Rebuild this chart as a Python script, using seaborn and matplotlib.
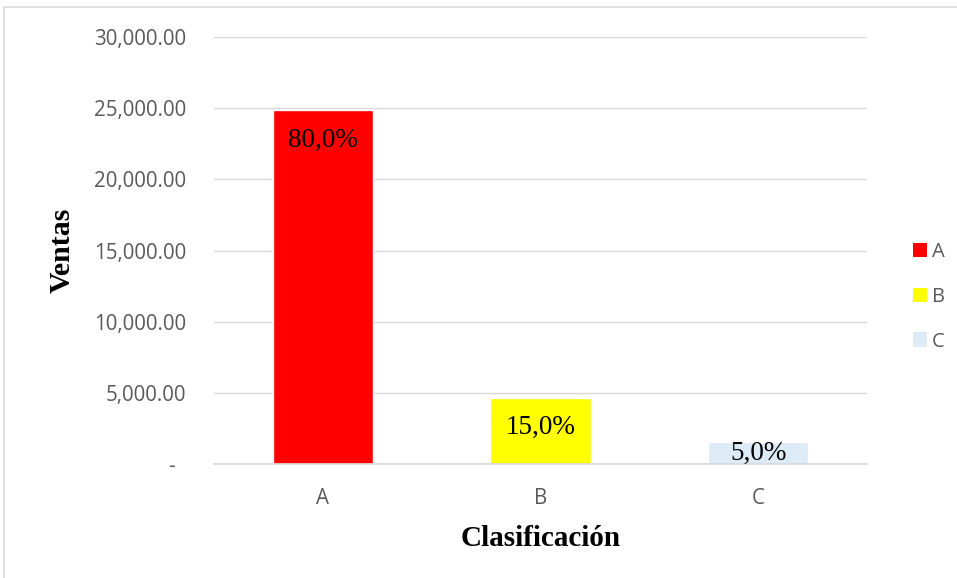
import matplotlib
matplotlib.use("Agg")
import matplotlib.pyplot as plt
import seaborn as sns
import pandas as pd
from matplotlib.patches import Rectangle, Patch
from matplotlib.ticker import FuncFormatter

# datos
categorias = ["A", "B", "C"]
ventas = [24850, 4650, 1550]
porcentajes = ["80,0%", "15,0%", "5,0%"]
colores = ["#FF0000", "#FFFF00", "#DDEBF7"]

df = pd.DataFrame({"Clasificación": categorias, "Ventas": ventas})

sns.set_theme(style="white")
plt.rcParams["font.family"] = ["Open Sans", "DejaVu Sans"]

fig = plt.figure(figsize=(9.57, 5.78), dpi=100)
ax = fig.add_axes([214 / 957, 1 - 464 / 578, 653 / 957, 427 / 578])

sns.barplot(data=df, x="Clasificación", y="Ventas", hue="Clasificación",
            palette=colores, width=0.46, saturation=1, legend=False, ax=ax)

ax.set_ylim(0, 30000)
ax.set_yticks(range(0, 30001, 5000))
# formato contable: el cero se muestra como guion
ax.yaxis.set_major_formatter(FuncFormatter(lambda v, p: "-  " if v == 0 else f"{v:,.2f}"))
ax.grid(axis="y", color="#d9d9d9", linewidth=1)
ax.set_axisbelow(True)
for s in ["top", "left", "right"]:
    ax.spines[s].set_visible(False)
ax.spines["bottom"].set_color("#d9d9d9")
ax.tick_params(axis="both", length=0, labelsize=14.8, labelcolor="#595959")
ax.tick_params(axis="y", pad=20)
ax.tick_params(axis="x", pad=17)

ax.set_xlabel("Clasificación", family="Liberation Serif", fontweight="bold",
              fontsize=21, color="black", labelpad=12)
ax.set_ylabel("Ventas", family="Liberation Serif", fontweight="bold",
              fontsize=21.5, color="black", labelpad=13)

# etiquetas de porcentaje
px_por_unidad = 427 / 30000
for i, (v, t) in enumerate(zip(ventas, porcentajes)):
    if v * px_por_unidad > 60:
        y = v - 30 / px_por_unidad
    else:
        y = v / 2 - 0.5 / px_por_unidad
    ax.text(i, y, t, ha="center", va="center", family="Liberation Serif",
            fontsize=19.5, color="black")

handles = [Patch(facecolor=c, edgecolor="none") for c in colores]
fig.legend(handles, categorias, loc="center left", bbox_to_anchor=(903 / 957, 1 - 297 / 578),
           frameon=False, fontsize=14.5, labelcolor="#595959", handlelength=0.7,
           handleheight=0.7, handletextpad=0.25, labelspacing=1.22, borderpad=0)

fig.patches.append(Rectangle((4 / 957, -0.1), 1.2, 1.1 - 7 / 578, transform=fig.transFigure,
                             fill=False, edgecolor="#d9d9d9", linewidth=1.2))

fig.savefig("out.png", dpi=100)
